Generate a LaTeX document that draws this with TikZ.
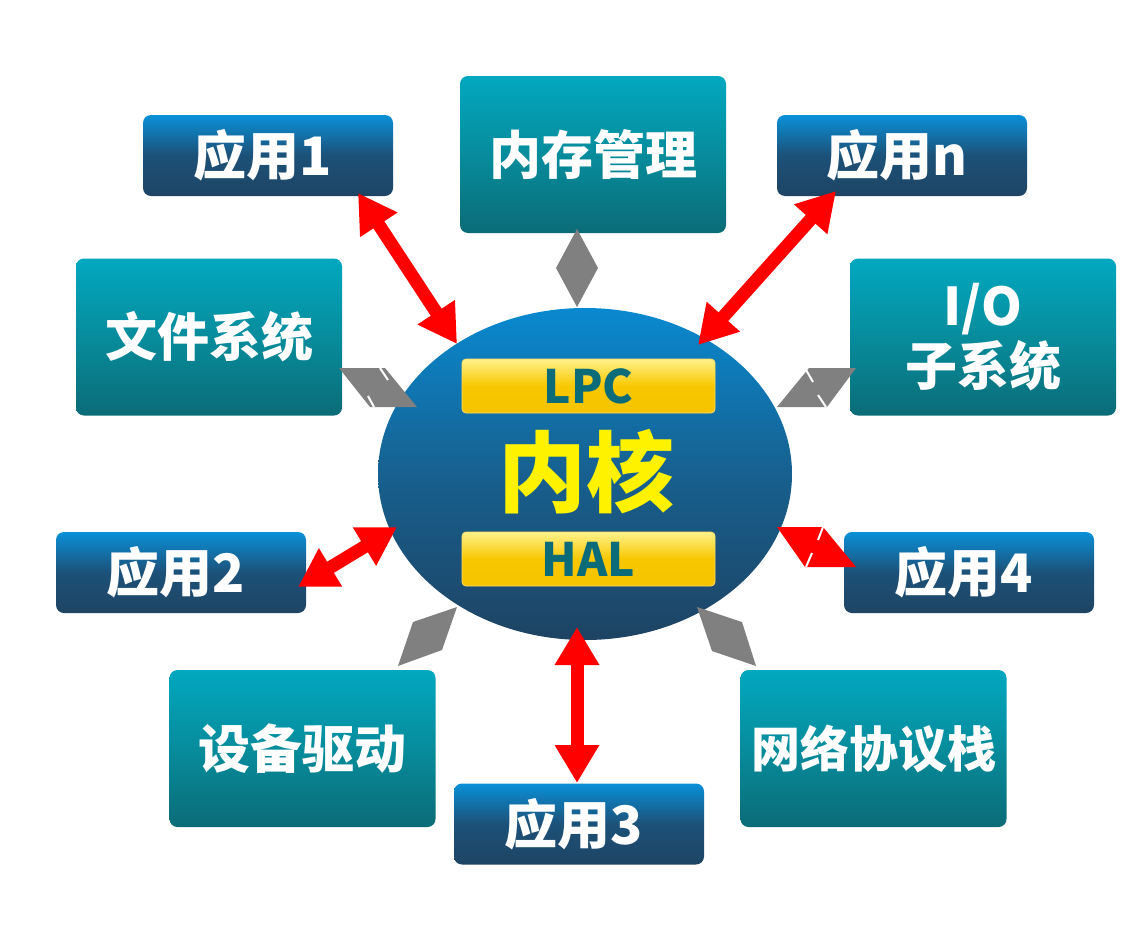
\documentclass[tikz,border=0pt]{standalone}
\usepackage{fontspec}
\usetikzlibrary{shapes.geometric,arrows.meta}
\newfontfamily\cjk{Noto Sans CJK SC}
\definecolor{appTop}{HTML}{0A90D8}
\definecolor{appMid}{HTML}{1C5178}
\definecolor{appBot}{HTML}{1E4464}
\definecolor{modTop}{HTML}{02A8C0}
\definecolor{modMid}{HTML}{078C9C}
\definecolor{modBot}{HTML}{0B6C77}
\definecolor{kTop}{HTML}{0989D0}
\definecolor{kMid}{HTML}{17608F}
\definecolor{kBot}{HTML}{1E4363}
\definecolor{barTop}{HTML}{FFF28A}
\definecolor{barMid}{HTML}{F8C700}
\definecolor{barBot}{HTML}{F6C300}
\definecolor{barText}{HTML}{0B6B78}
\definecolor{arrowGray}{HTML}{808080}
\begin{document}
\begin{tikzpicture}[x=1pt,y=-1pt]
\useasboundingbox[fill=white] (0,0) rectangle (1131,926);
\tikzset{
  appbox/.style={rounded corners=8pt, minimum width=250pt, minimum height=81pt, inner sep=0pt,
    top color=appTop, bottom color=appBot, middle color=appMid,
    text=white, font=\cjk\bfseries\fontsize{53}{60}\selectfont,
    execute at end node=\hspace*{10pt}},
  modbox/.style={rounded corners=8pt, minimum width=266pt, minimum height=157pt, inner sep=0pt,
    top color=modTop, bottom color=modBot, middle color=modMid, align=center,
    text=white, font=\cjk\bfseries\fontsize{52}{60}\selectfont},
  kernelshape/.style={ellipse, minimum width=414pt, minimum height=332pt, inner sep=0pt,
    top color=kTop, bottom color=kBot, middle color=kMid},
  bar/.style={rounded corners=4pt, minimum width=253pt, minimum height=54pt, inner sep=0pt,
    top color=barTop, bottom color=barBot, middle color=barMid, draw=barMid!60!white, line width=0.8pt,
    text=barText, font=\cjk\bfseries\fontsize{46}{50}\selectfont},
  kerneltext/.style={text=yellow, font=\cjk\bfseries\fontsize{88}{90}\selectfont, inner sep=0pt},
  redarrow/.style={draw=red, line width=13pt,
    {Triangle[length=38pt,width=42pt]}-{Triangle[length=38pt,width=42pt]}},
  graydiamond/.style={fill=arrowGray},
  reddiamond/.style={fill=red},
  gapline/.style={draw=white, line width=2pt}
}
% boxes
\node[appbox] (app1) at (268,155.5) {应用1};
\node[modbox] (mem) at (593,154.5) {内存管理};
\node[appbox] (appn) at (902,155.5) {应用n};
\node[modbox] (fs) at (209,337) {文件系统};
\node[modbox] (io) at (983,337) {I/O\\子系统};
\node[kernelshape] (kernel) at (585,474) {};
\node[bar] (lpc) at (588.5,386) {LPC};
\node[bar] (hal) at (588.5,559) {HAL};
\node[kerneltext] (kt) at (586,472) {内核};
\node[appbox] (app2) at (181,572.5) {应用2};
\node[appbox] (app4) at (969,572.5) {应用4};
\node[modbox] (dev) at (302.5,748.5) {设备驱动};
\node[modbox, font=\cjk\bfseries\fontsize{49}{60}\selectfont] (net) at (873.5,748.5) {网络协议栈};
\node[appbox] (app3) at (579,824) {应用3};
% connector end points
\coordinate (a1) at (358,193);   \coordinate (k1) at (457,344);
\coordinate (an) at (836,191);   \coordinate (kn) at (698,345);
\coordinate (a2) at (298,587);   \coordinate (k2) at (397,527);
\coordinate (a3) at (577,783);   \coordinate (k3) at (577,627);
\coordinate (m1) at (577,229);   \coordinate (m2) at (577,307);
\coordinate (f1) at (339,368);   \coordinate (f2) at (417,407);
\coordinate (i1) at (856,368);   \coordinate (i2) at (777,407);
\coordinate (r1) at (777,527);   \coordinate (r2) at (856,567);
\coordinate (d1) at (457,607);   \coordinate (d2) at (398,666);
\coordinate (n1) at (697,607);   \coordinate (n2) at (756,666);
% red double arrows
\draw[redarrow] (a1) -- (k1);
\draw[redarrow] (an) -- (kn);
\draw[redarrow] (a2) -- (k2);
\draw[redarrow] (a3) -- (k3);
% diamond-shaped double arrows
\fill[graydiamond] (m1) -- ++(21,39) -- (m2) -- ++(-21,-39) -- cycle;
\fill[graydiamond] (f1) -- ++(46,0) -- (f2) -- ++(-47,0) -- cycle;
\fill[graydiamond] (i1) -- ++(-47,0) -- (i2) -- ++(50,0) -- cycle;
\fill[reddiamond] (r1) -- ++(46,0) -- (r2) -- ++(-51,0) -- cycle;
\fill[graydiamond] (d1) -- ++(-44,15) -- (d2) -- ++(44,-16) -- cycle;
\fill[graydiamond] (n1) -- ++(45,15) -- (n2) -- ++(-44,-15) -- cycle;
% small white gaps
\draw[gapline] (380,368) -- (388,380);
\draw[gapline] (368,396) -- (374,407);
\draw[gapline] (805,368) -- (813,382);
\draw[gapline] (818,395) -- (826,407);
\draw[gapline] (823,527) -- (818,540);
\draw[gapline] (812,553) -- (806,567);
\end{tikzpicture}
\end{document}
